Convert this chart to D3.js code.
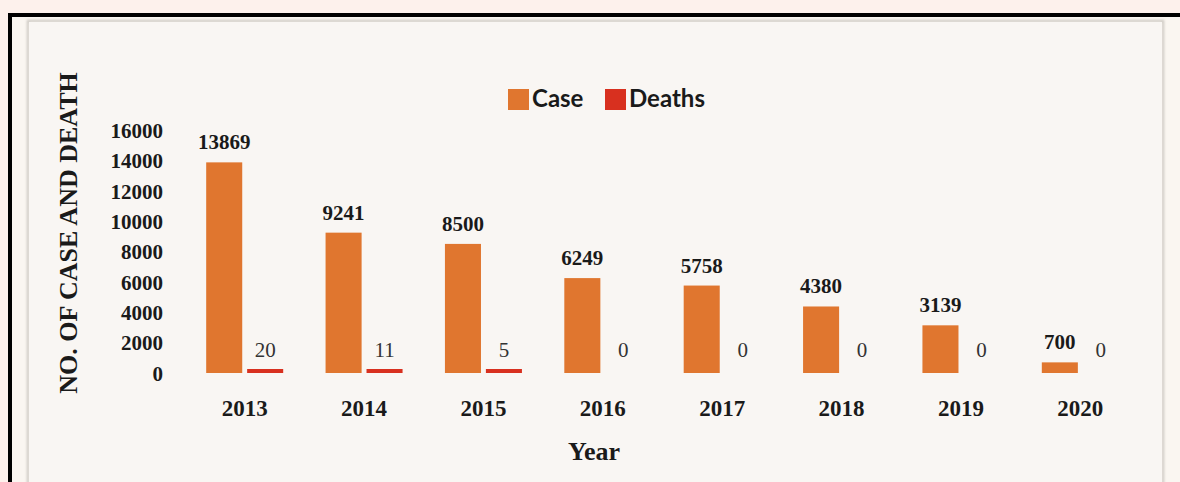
<!DOCTYPE html>
<html>
<head>
<meta charset="utf-8">
<script src="https://cdn.jsdelivr.net/npm/d3@7"></script>
<style>
  html, body { margin: 0; padding: 0; background: #fdf1ec; }
  svg { display: block; }
</style>
</head>
<body>
<div id="chart"></div>
<script>
(function () {
  'use strict';

  // Data
  var years = ['2013', '2014', '2015', '2016', '2017', '2018', '2019', '2020'];
  var cases = [13869, 9241, 8500, 6249, 5758, 4380, 3139, 700];
  var deaths = [20, 11, 5, 0, 0, 0, 0, 0];
  var yTicks = [0, 2000, 4000, 6000, 8000, 10000, 12000, 14000, 16000];
  var seriesNames = ['Case', 'Deaths'];

  var W = 1180, H = 482;
  var colors = { Case: '#e0762f', Deaths: '#d8301f' };
  var serif = '"Liberation Serif", "DejaVu Serif", serif';
  var sans = 'Lato, "Open Sans", "Noto Sans", sans-serif';

  var svg = d3.select('#chart').append('svg')
    .attr('width', W)
    .attr('height', H);

  // Frame: black border, inner panel
  svg.append('rect').attr('x', 0).attr('y', 0).attr('width', W).attr('height', H).attr('fill', '#fdf1ec');
  svg.append('rect').attr('x', 10).attr('y', 15).attr('width', W).attr('height', H)
    .attr('fill', '#faf6f1').attr('stroke', '#000').attr('stroke-width', 4);

  var defs = svg.append('defs');
  var f = defs.append('filter').attr('id', 'shadow').attr('x', '-5%').attr('y', '-5%').attr('width', '110%').attr('height', '110%');
  f.append('feGaussianBlur').attr('in', 'SourceGraphic').attr('stdDeviation', 1.2);

  svg.append('rect').attr('x', 28).attr('y', 21).attr('width', 1135).attr('height', H)
    .attr('fill', 'none').attr('stroke', '#cfcac4').attr('stroke-width', 2.5).attr('filter', 'url(#shadow)');
  svg.append('rect').attr('x', 29).attr('y', 22).attr('width', 1133).attr('height', H)
    .attr('fill', '#f9f6f3');

  // Scales
  var y = d3.scaleLinear().domain([0, 16000]).range([373, 130]);

  var x0 = d3.scaleBand().domain(years)
    .range([185, 1140])
    .paddingInner(0.355)
    .paddingOuter(0.1775);

  var x1 = d3.scaleBand().domain(seriesNames)
    .range([0, x0.bandwidth()])
    .paddingInner(0.12);

  // Y axis (labels only)
  var yAxis = d3.axisLeft(y).tickValues(yTicks).tickFormat(d3.format('d')).tickSize(0).tickPadding(0);
  var yg = svg.append('g').attr('transform', 'translate(163,0)').call(yAxis);
  yg.select('.domain').remove();
  yg.selectAll('text')
    .attr('font-family', serif)
    .attr('font-size', 21)
    .attr('font-weight', 'bold')
    .attr('fill', '#1a1a1a')
    .attr('dy', '0.35em');

  // X axis (labels only)
  var xAxis = d3.axisBottom(x0).tickSize(0).tickPadding(0);
  var xg = svg.append('g').attr('transform', 'translate(0,400)').call(xAxis);
  xg.select('.domain').remove();
  xg.selectAll('text')
    .attr('font-family', serif)
    .attr('font-size', 23)
    .attr('font-weight', 'bold')
    .attr('fill', '#1a1a1a')
    .attr('dy', '0.71em');

  // Bars
  var rows = years.map(function (yr, i) {
    return { year: yr, Case: cases[i], Deaths: deaths[i] };
  });

  var groups = svg.append('g').selectAll('g.year')
    .data(rows)
    .enter().append('g')
    .attr('class', 'year')
    .attr('transform', function (d) { return 'translate(' + x0(d.year) + ',0)'; });

  // Case bars
  groups.append('rect')
    .attr('x', x1('Case'))
    .attr('width', x1.bandwidth())
    .attr('y', function (d) { return y(d.Case); })
    .attr('height', function (d) { return y(0) - y(d.Case); })
    .attr('fill', colors.Case);

  groups.append('text')
    .attr('x', x1('Case') + x1.bandwidth() / 2)
    .attr('y', function (d) { return y(d.Case) - 13; })
    .attr('text-anchor', 'middle')
    .attr('font-family', serif)
    .attr('font-size', 21)
    .attr('font-weight', 'bold')
    .attr('fill', '#1a1a1a')
    .text(function (d) { return d.Case; });

  // Death bars: tiny values, drawn with a minimum visible thickness
  groups.filter(function (d) { return d.Deaths > 0; })
    .append('rect')
    .attr('x', x1('Deaths'))
    .attr('width', x1.bandwidth())
    .attr('y', function (d) { return Math.min(y(d.Deaths), y(0) - 4); })
    .attr('height', function (d) { return Math.max(y(0) - y(d.Deaths), 4); })
    .attr('fill', colors.Deaths);

  groups.append('text')
    .attr('x', x1('Deaths') + x1.bandwidth() / 2)
    .attr('y', function (d) { return Math.min(y(d.Deaths), y(0) - 4) - 12; })
    .attr('text-anchor', 'middle')
    .attr('font-family', serif)
    .attr('font-size', 21)
    .attr('fill', '#333')
    .text(function (d) { return d.Deaths; });

  // Axis titles
  svg.append('text')
    .attr('transform', 'translate(77,233) rotate(-90)')
    .attr('text-anchor', 'middle')
    .attr('font-family', serif)
    .attr('font-size', 26)
    .attr('font-weight', 'bold')
    .attr('fill', '#1a1a1a')
    .text('NO. OF CASE AND DEATH');

  svg.append('text')
    .attr('x', 594)
    .attr('y', 460)
    .attr('text-anchor', 'middle')
    .attr('font-family', serif)
    .attr('font-size', 26)
    .attr('font-weight', 'bold')
    .attr('fill', '#1a1a1a')
    .text('Year');

  // Legend
  var legendX = [508, 605];
  var legend = svg.append('g').selectAll('g.leg')
    .data(seriesNames)
    .enter().append('g')
    .attr('class', 'leg')
    .attr('transform', function (d, i) { return 'translate(' + legendX[i] + ',89)'; });

  legend.append('rect')
    .attr('width', 21).attr('height', 21)
    .attr('fill', function (d) { return colors[d]; });

  legend.append('text')
    .attr('x', 24)
    .attr('y', 18)
    .attr('font-family', sans)
    .attr('font-size', 24)
    .attr('font-weight', 'bold')
    .attr('fill', '#1a1a1a')
    .text(function (d) { return d; });
})();
</script>
</body>
</html>
